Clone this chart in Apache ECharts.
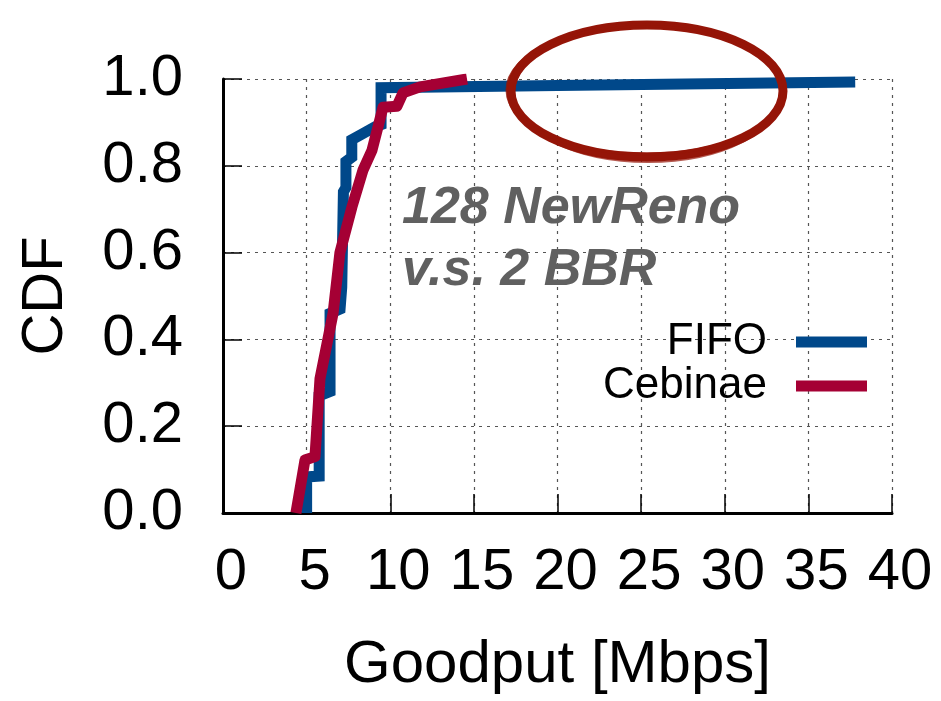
<!DOCTYPE html>
<html>
<head>
<meta charset="utf-8">
<script src="https://cdn.jsdelivr.net/npm/echarts@6/dist/echarts.min.js"></script>
<style>html,body{margin:0;padding:0;background:#fff;}#c{width:941px;height:701px;}</style>
</head>
<body>
<div id="c"></div>
<script>
// ---- data ----
var seriesNames = ['FIFO', 'Cebinae'];
var fifoData = [[5.0,0],[5.0,0.083],[5.75,0.085],[5.75,0.27],[6.4,0.28],[6.4,0.46],[7.0,0.47],[7.1,0.52],[7.2,0.74],[7.35,0.75],[7.35,0.81],[7.7,0.82],[7.7,0.86],[8.4,0.875],[9.1,0.89],[9.45,0.895],[9.45,0.98],[20,0.985],[37.8,0.993]];
var cebinaeData = [[4.36,0],[4.9,0.122],[5.5,0.13],[5.8,0.31],[6.58,0.46],[6.99,0.6],[7.71,0.705],[8.37,0.79],[8.91,0.836],[9.57,0.935],[10.4,0.937],[10.76,0.968],[11.78,0.982],[14.59,1.0]];
var xTicks = [0,5,10,15,20,25,30,35,40];
var yTicks = ['0.0','0.2','0.4','0.6','0.8','1.0'];
var annotationLines = ['128 NewReno', 'v.s. 2 BBR'];
var xName = 'Goodput [Mbps]';
var yName = 'CDF';

var FONT = '"Liberation Sans", Helvetica, Arial, sans-serif';
var chart = echarts.init(document.getElementById('c'), null, {renderer: 'canvas'});
var gridStyle = {show: true, lineStyle: {color: '#555', width: 1.2, type: [3, 5]}};
var option = {
  backgroundColor: '#fff',
  animation: false,
  grid: {left: 223, right: 49, top: 79, bottom: 188, containLabel: false},
  xAxis: {
    type: 'value', min: xTicks[0], max: xTicks[xTicks.length-1], interval: 5,
    name: xName, nameLocation: 'middle', nameGap: 122,
    nameTextStyle: {fontFamily: FONT, fontSize: 60, color: '#000'},
    axisLine: {show: true, onZero: false, lineStyle: {color: '#000', width: 3}},
    axisTick: {show: true, inside: true, length: 19, lineStyle: {color: '#000', width: 1.5}},
    axisLabel: {fontFamily: FONT, fontSize: 58, color: '#000', margin: 31, padding: [0,0,0,16],
      formatter: function(v){ return String(v); }},
    splitLine: gridStyle
  },
  yAxis: {
    type: 'value', min: 0, max: 1, interval: 0.2,
    name: yName, nameLocation: 'middle', nameGap: 148, nameRotate: 90,
    nameTextStyle: {fontFamily: FONT, fontSize: 58, color: '#000'},
    axisLine: {show: true, onZero: false, lineStyle: {color: '#000', width: 3}},
    axisTick: {show: true, inside: true, length: 19, lineStyle: {color: '#000', width: 1.5}},
    axisLabel: {fontFamily: FONT, fontSize: 58, color: '#000', margin: 40,
      formatter: function(v){ return yTicks[Math.round(v/0.2)]; }},
    splitLine: gridStyle
  },
  legend: {
    orient: 'vertical', align: 'right', right: 69, top: 315, itemGap: 0,
    itemWidth: 71, itemHeight: 11, icon: 'rect',
    textStyle: {fontFamily: FONT, fontSize: 44, color: '#000', lineHeight: 44, padding: [0, 24, 0, 0]},
    data: seriesNames
  },
  series: [
    {name: seriesNames[0], type: 'line', data: fifoData, showSymbol: false, symbol: 'none',
     color: '#00488a', lineStyle: {width: 11, color: '#00488a', cap: 'butt', join: 'miter'}, z: 2},
    {name: seriesNames[1], type: 'line', data: cebinaeData, showSymbol: false, symbol: 'none',
     color: '#a50034', lineStyle: {width: 11, color: '#a50034', cap: 'butt', join: 'round'}, z: 3}
  ],
  graphic: [
    {type: 'text', left: 402, top: 178, z: 50,
     style: {text: annotationLines.join('\n'), font: 'italic bold 52px ' + FONT, fill: '#606060', lineHeight: 62}},
    {type: 'ellipse', z: 100, shape: {cx: 647, cy: 91, rx: 136, ry: 66},
     style: {fill: 'none', stroke: '#951508', lineWidth: 9}},
    {type: 'ellipse', z: 100, shape: {cx: 646, cy: 90, rx: 139, ry: 64},
     style: {fill: 'none', stroke: '#951508', lineWidth: 3, opacity: 0.8}},
    {type: 'ellipse', z: 100, shape: {cx: 648, cy: 93, rx: 134, ry: 69},
     style: {fill: 'none', stroke: '#951508', lineWidth: 2, opacity: 0.7}}
  ]
};
chart.setOption(option);
</script>
</body>
</html>
